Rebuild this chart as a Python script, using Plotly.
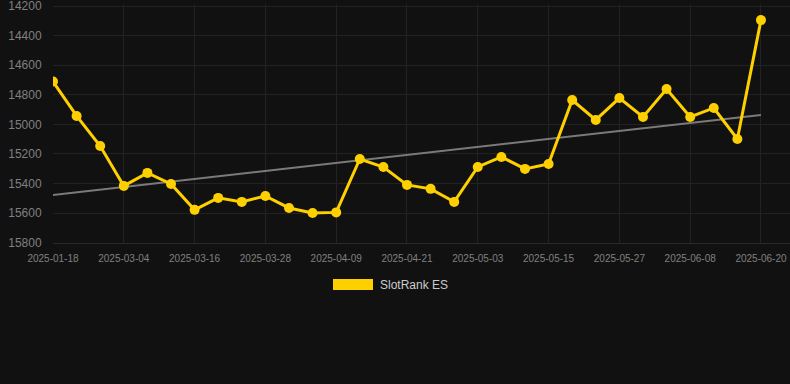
import plotly.graph_objects as go

dates = ["2025-01-18", "2025-02-24", "2025-02-28", "2025-03-04", "2025-03-08", "2025-03-12",
         "2025-03-16", "2025-03-20", "2025-03-24", "2025-03-28", "2025-04-01", "2025-04-05",
         "2025-04-09", "2025-04-13", "2025-04-17", "2025-04-21", "2025-04-25", "2025-04-29",
         "2025-05-03", "2025-05-07", "2025-05-11", "2025-05-15", "2025-05-19", "2025-05-23",
         "2025-05-27", "2025-05-31", "2025-06-04", "2025-06-08", "2025-06-12", "2025-06-16",
         "2025-06-20"]
ranks = [14710, 14943, 15146, 15416, 15328, 15403, 15578, 15497, 15524, 15484, 15565, 15599,
         15595, 15234, 15288, 15409, 15436, 15524, 15288, 15220, 15301, 15268, 14835, 14970,
         14822, 14950, 14761, 14950, 14889, 15099, 14295]
trend_ends = [15477, 14936]
y_ticks = [14200, 14400, 14600, 14800, 15000, 15200, 15400, 15600, 15800]
series_name = "SlotRank ES"

idx = list(range(len(dates)))
tick_idx = idx[::3]

fig = go.Figure()
fig.add_trace(go.Scatter(
    x=[idx[0], idx[-1]], y=trend_ends, mode="lines",
    line=dict(color="#7a7a7a", width=2), hoverinfo="skip", showlegend=False))
fig.add_trace(go.Scatter(
    x=idx, y=ranks, mode="lines+markers", name=series_name,
    line=dict(color="#FFD000", width=3),
    marker=dict(color="#FFD000", size=10), showlegend=False))

top, bottom = 4, 141
ph = 384 - top - bottom

fig.update_layout(
    width=790, height=384,
    margin=dict(l=53, r=0, t=top, b=bottom),
    paper_bgcolor="#111111", plot_bgcolor="#111111",
    font=dict(family="Liberation Sans, Arial, sans-serif", color="#888888"),
    xaxis=dict(range=[0, 31.23], tickvals=tick_idx, ticktext=[dates[i] for i in tick_idx],
               showgrid=True, gridcolor="#222222", gridwidth=1, zeroline=False,
               showline=True, linecolor="#2a2a2a", linewidth=1,
               ticks="outside", ticklen=6, tickcolor="rgba(0,0,0,0)",
               tickfont=dict(size=10, color="#808080")),
    yaxis=dict(range=[15802, 14186], tickvals=y_ticks, tickformat="d", showgrid=True,
               gridcolor="#222222", zeroline=False, ticks="outside", ticklen=8,
               tickcolor="rgba(0,0,0,0)", tickfont=dict(size=12, color="#808080"),
               ticklabeloverflow="allow"),
    shapes=[dict(type="rect", xref="paper", yref="paper", x0=(333 - 53) / 737, x1=(373 - 53) / 737,
                 y0=(384 - bottom - 290) / ph, y1=(384 - bottom - 279) / ph,
                 fillcolor="#FFD000", line=dict(width=0))],
    annotations=[dict(text=series_name, xref="paper", yref="paper", x=(378 - 53) / 737,
                      y=(384 - bottom - 284.5) / ph, xanchor="left", yanchor="middle",
                      showarrow=False, font=dict(size=12, color="#cccccc"))],
)

fig.write_html("out.html")
